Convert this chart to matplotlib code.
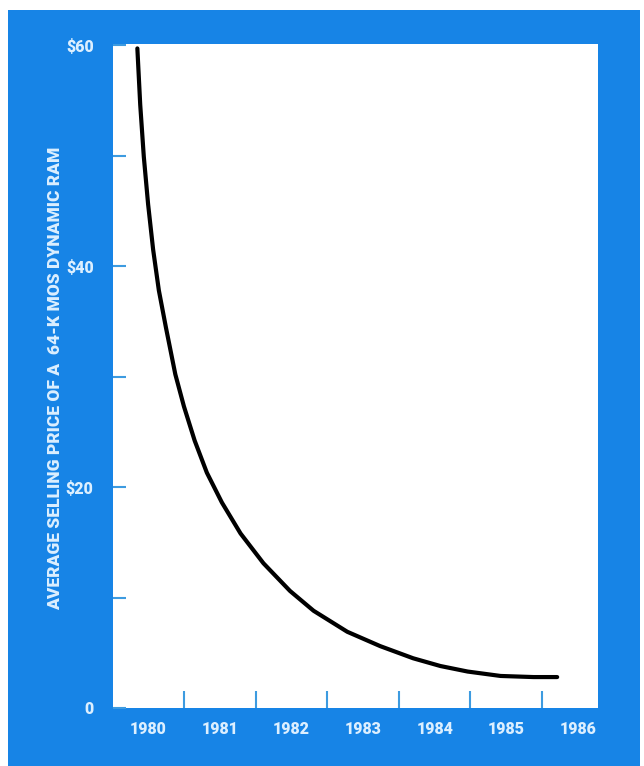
import matplotlib
matplotlib.use("Agg")
import matplotlib.pyplot as plt
from matplotlib.patches import Rectangle

# ── Data (year, average selling price in $) ────────────────────────────────
years = [1979.85, 1979.89, 1979.94, 1980.00, 1980.07, 1980.15, 1980.25,
         1980.38, 1980.50, 1980.65, 1980.82, 1981.03, 1981.29, 1981.61,
         1981.98, 1982.31, 1982.78, 1983.24, 1983.70, 1984.08, 1984.46,
         1984.92, 1985.38, 1985.71]
price = [59.7, 54.6, 49.9, 45.6, 41.5, 37.8, 34.4,
         30.2, 27.3, 24.2, 21.3, 18.6, 15.8, 13.1,
         10.6, 8.8, 6.9, 5.6, 4.5, 3.8, 3.3,
         2.9, 2.8, 2.8]

year_labels = ["1980", "1981", "1982", "1983", "1984", "1985", "1986"]
year_pos = [1980, 1981, 1982, 1983, 1984, 1985, 1986]
y_ticks = [0, 10, 20, 30, 40, 50, 60]
y_tick_labels = ["0", "", "$20", "", "$40", "", "$60"]
ylabel = "AVERAGE SELLING PRICE OF A  64-K MOS DYNAMIC RAM"

BLUE = "#1784e6"
TICK_BLUE = "#3d9be0"
TEXT = "#dcefff"
FONT = ["Roboto", "DejaVu Sans"]

fig = plt.figure(figsize=(6.44, 7.66), dpi=100, facecolor="white")

# blue panel behind everything
bg = fig.add_axes([0, 0, 1, 1], zorder=-10)
bg.set_xlim(0, 644)
bg.set_ylim(766, 0)
bg.axis("off")
bg.add_patch(Rectangle((8, 10), 632, 756, facecolor=BLUE, edgecolor="none"))

ax = fig.add_axes([113 / 644, 58 / 766, 485 / 644, 664 / 766], zorder=1)
ax.set_facecolor("white")
ax.plot(years, price, color="black", lw=3, solid_capstyle="round",
        solid_joinstyle="round")

ax.set_xlim(1979.51, 1986.28)
ax.set_ylim(0, 60.1)
for s in ax.spines.values():
    s.set_visible(False)

# minor x ticks sit between the years, labels centred in each year
ax.set_xticks([y + 0.5 for y in year_pos[:-1]], minor=True)
ax.set_xticks(year_pos)
ax.set_xticklabels(year_labels)
ax.tick_params(axis="x", which="major", length=0, pad=9.5)
ax.tick_params(axis="x", which="minor", direction="in", length=12,
               width=1.5, color=TICK_BLUE)

ax.set_yticks(y_ticks)
ax.set_yticklabels(y_tick_labels)
ax.tick_params(axis="y", direction="in", length=9, width=1.5,
               color=TICK_BLUE, pad=14)

for lab in ax.get_xticklabels() + ax.get_yticklabels():
    lab.set_family(FONT)
    lab.set_fontweight("heavy")
    lab.set_fontsize(11.5)
    lab.set_color(TEXT)

fig.text(55 / 644, (766 - 378) / 766, ylabel, rotation=90, ha="center",
         va="center", family=FONT, fontweight="heavy", fontsize=12.5,
         color=TEXT)

fig.savefig("out.png", dpi=100, facecolor=fig.get_facecolor())
